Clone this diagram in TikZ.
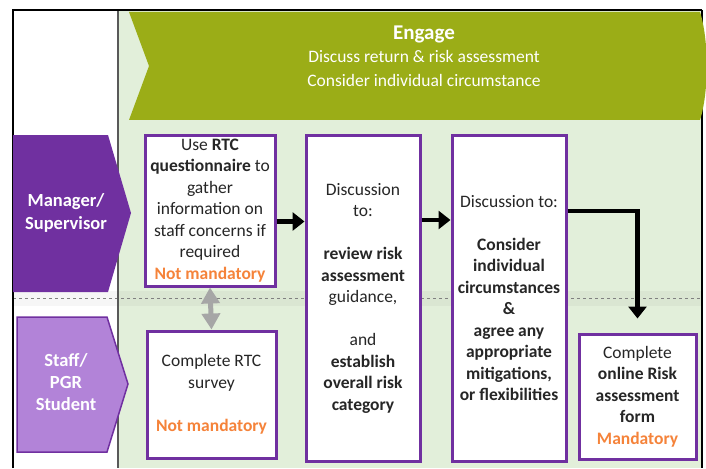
\documentclass[tikz,border=0pt]{standalone}
\usepackage{fontspec}
\setmainfont{Carlito}
\usetikzlibrary{arrows.meta}
\definecolor{rtcpurple}{HTML}{7030A0}
\definecolor{rtclilac}{HTML}{B283D8}
\definecolor{rtcgreen}{HTML}{9BAD17}
\definecolor{rtcmint}{HTML}{E2EFDA}
\definecolor{rtcorange}{HTML}{F5833A}
\definecolor{rtcgrey}{HTML}{A6A6A6}
\begin{document}
\begin{tikzpicture}[x=1pt, y=-1pt,
                stepbox/.style={draw=rtcpurple, line width=3pt, fill=white, align=center, inner sep=0pt,
                    text=black!85, font=\fontsize{17.5}{21.5}\selectfont},
                lanetext/.style={text=white, align=center, font=\bfseries\fontsize{18.5}{23}\selectfont},
                flow/.style={line width=4.5pt, -{Triangle[length=12pt, width=18pt]}},
                updown/.style={rtcgrey, line width=5pt,
                    {Triangle[length=16pt, width=18pt]}-{Triangle[length=16pt, width=18pt]}}]
                \useasboundingbox (0,0) rectangle (706,468);

                \fill[rtcmint] (118,10) rectangle (702,468);
                \fill[black, opacity=0.035] (13,291) rectangle (702,306);
                \draw[gray, dashed, line width=0.8pt] (13,298) -- (702,298);
                \draw[line width=1.5pt] (702,10) -- (702,468);
                \fill[rtcgreen] (129,12) -- (700,12) .. controls (709,40) and (709,92) .. (700,120) -- (129,120) -- (149,66) -- cycle;
                \draw[black!65, line width=1.5pt] (118,10) -- (118,468);
                \draw[line width=2pt] (13,468) -- (13,10) -- (702,10);

                \fill[rtcpurple] (13,135) -- (108,135) -- (131,213) -- (108,292) -- (13,292) -- cycle;
                \filldraw[fill=rtclilac, draw=rtcpurple, line width=1.5pt] (17,317) -- (107,317) -- (128,384) -- (107,452) -- (17,452) -- cycle;

                \node[text=white, align=center, font=\fontsize{17.5}{23.5}\selectfont] (engage) at (424,56)
                    {{\bfseries\fontsize{21}{23.5}\selectfont Engage}\\ Discuss return \& risk assessment\\ Consider individual circumstance};
                \node[lanetext] (manager) at (66,213) {Manager/\\ Supervisor};
                \node[lanetext, font=\bfseries\fontsize{18.5}{22}\selectfont] (staff) at (66,382) {Staff/\\ PGR\\ Student};

                \node[stepbox, minimum width=130pt, minimum height=151pt] (quest) at (210,210.5)
                    {Use \textbf{RTC}\\ \textbf{questionnaire} to\\ gather\\ information on\\ staff concerns if\\ required\\ \textcolor{rtcorange}{\textbf{Not mandatory}}};
                \node[stepbox, minimum width=129pt, minimum height=127pt] (survey) at (211.5,394.5)
                    {Complete RTC\\ survey\\[21.5pt] \textcolor{rtcorange}{\textbf{Not mandatory}}};
                \node[stepbox, minimum width=114pt, minimum height=326pt] (review) at (363,298)
                    {Discussion\\ to:\\[21.5pt] \textbf{review risk}\\ \textbf{assessment}\\ guidance,\\[21.5pt] and\\ \textbf{establish}\\ \textbf{overall risk}\\ \textbf{category}};
                \node[stepbox, minimum width=114pt, minimum height=326pt] (consider) at (509,298)
                    {Discussion to:\\[21.5pt] \textbf{Consider}\\ \textbf{individual}\\ \textbf{circumstances}\\ \textbf{\&}\\ \textbf{agree any}\\ \textbf{appropriate}\\ \textbf{mitigations,}\\ \textbf{or flexibilities}};
                \node[stepbox, minimum width=117pt, minimum height=125pt] (riskform) at (637.5,396.5)
                    {Complete\\ \textbf{online Risk}\\ \textbf{assessment}\\ \textbf{form}\\ \textcolor{rtcorange}{\textbf{Mandatory}}};

                \draw[flow] ([yshift=-11pt]quest.east) -- ([yshift=-11pt]quest.east -| review.west);
                \draw[flow] ([yshift=78pt]review.east) -- ([yshift=78pt]review.east -| consider.west);
                \draw[flow] ([yshift=87pt]consider.east) -| ([yshift=14pt]riskform.north);
                \draw[updown] (quest.south) -- (survey.north);
            \end{tikzpicture}
\end{document}
